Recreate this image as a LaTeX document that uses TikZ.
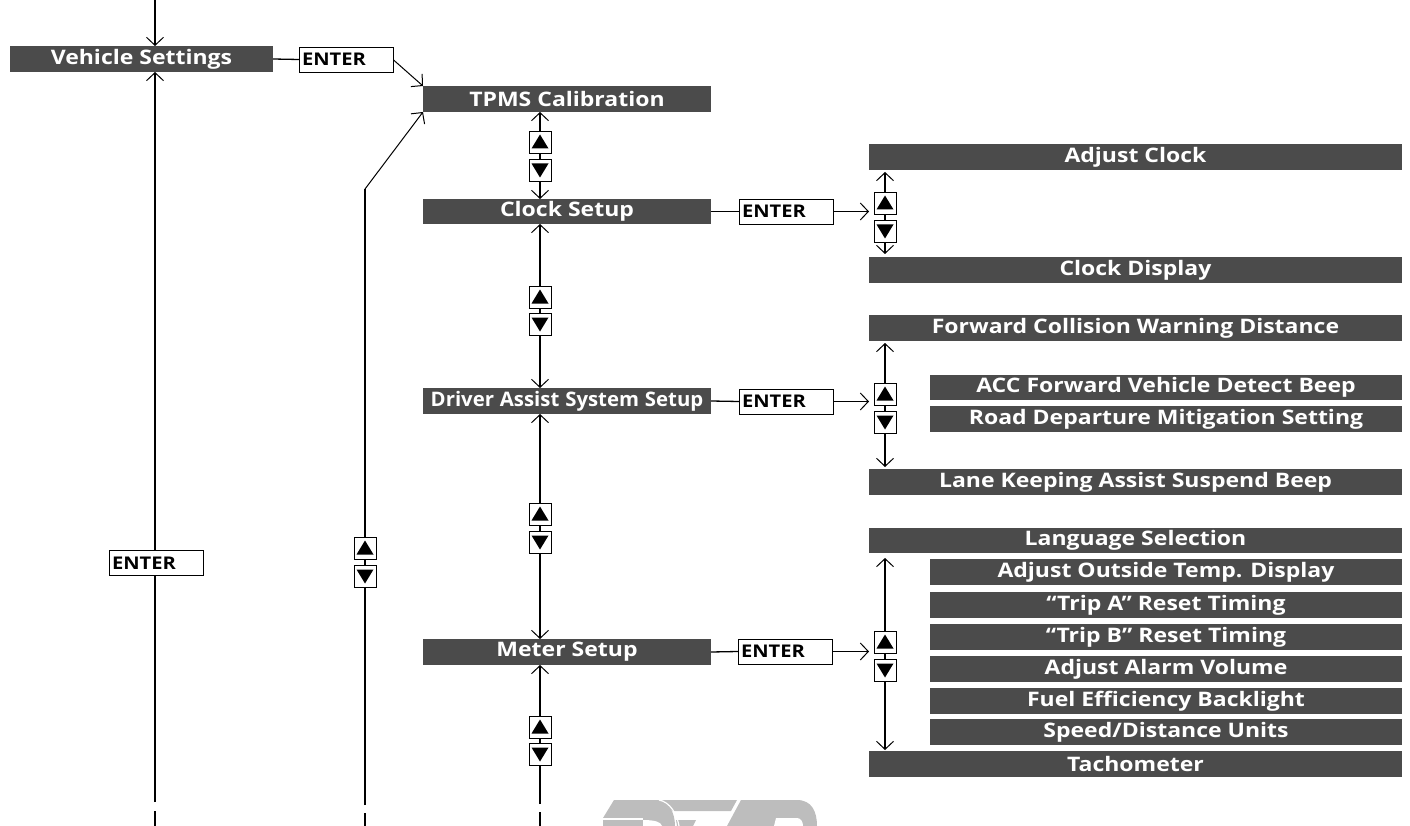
\documentclass[tikz,border=0pt]{standalone}
\usepackage{fontspec}
\setmainfont{Open Sans}[FakeStretch=1.15]
\usetikzlibrary{arrows.meta}
\pgfdeclarelayer{bg}
\pgfsetlayers{bg,main}
\definecolor{barc}{HTML}{4B4B4B}
\definecolor{wmark}{HTML}{BDBDBD}
\newcommand\BtnUp[1]{\fill ([shift={(-8.5,6.5)}]#1.center) -- ([shift={(8.5,6.5)}]#1.center) -- ([shift={(0,-7.5)}]#1.center) -- cycle;}
\newcommand\BtnDown[1]{\fill ([shift={(-8.5,-6.5)}]#1.center) -- ([shift={(8.5,-6.5)}]#1.center) -- ([shift={(0,7.5)}]#1.center) -- cycle;}
\begin{document}
\begin{tikzpicture}[x=1pt,y=-1pt,
  bar/.style={fill=barc, text=white, font=\bfseries\fontsize{20}{20}\selectfont, minimum height=26pt, inner sep=0pt, outer sep=0pt},
  enterbox/.style={draw=black, line width=0.9pt, fill=white, minimum height=25pt, inner xsep=3pt, inner ysep=0pt, text width=88pt, align=left, outer sep=0pt, font=\bfseries\fontsize{17.5}{17.5}\selectfont},
  btn/.style={draw=black, line width=0.9pt, fill=white, minimum size=22pt, inner sep=0pt, outer sep=0pt},
  link/.style={line width=1.3pt},
  thin/.style={line width=1pt},
  arr/.style={-{Straight Barb[length=8pt,width=17pt,line width=1pt]}},
  arrs/.style={{Straight Barb[length=8pt,width=17pt,line width=1pt]}-{Straight Barb[length=8pt,width=17pt,line width=1pt]}}
]
\useasboundingbox (0,0) rectangle (1410,826);

% bars
\node[bar, minimum width=263pt] (vs) at (141.5,59) {Vehicle Settings};
\node[bar, minimum width=288pt] (tpms) at (567,99) {TPMS Calibration};
\node[bar, minimum width=288pt, minimum height=25pt] (clock) at (567,211.5) {Clock Setup};
\node[bar, minimum width=288pt, text width=288pt, align=center] (das) at (567,401) {\scalebox{0.885}[1]{Driver Assist System Setup}};
\node[bar, minimum width=288pt] (meter) at (567,652) {Meter Setup};

\node[bar, minimum width=533pt] (adjclock) at (1135.5,157) {Adjust Clock};
\node[bar, minimum width=533pt] (clockdisp) at (1135.5,270) {Clock Display};
\node[bar, minimum width=533pt] (fcwd) at (1135.5,328) {Forward Collision Warning Distance};
\node[bar, minimum width=472pt, minimum height=25pt] (acc) at (1166,387.5) {ACC Forward Vehicle Detect Beep};
\node[bar, minimum width=472pt] (road) at (1166,419) {Road Departure Mitigation Setting};
\node[bar, minimum width=533pt] (lane) at (1135.5,482) {Lane Keeping Assist Suspend Beep};

\node[bar, minimum width=533pt, minimum height=25pt] (lang) at (1135.5,540.5) {Language Selection};
\node[bar, minimum width=472pt] (outside) at (1166,572) {Adjust Outside Temp. Display};
\node[bar, minimum width=472pt] (tripa) at (1166,605) {“Trip A” Reset Timing};
\node[bar, minimum width=472pt] (tripb) at (1166,637) {“Trip B” Reset Timing};
\node[bar, minimum width=472pt] (alarm) at (1166,669) {Adjust Alarm Volume};
\node[bar, minimum width=472pt] (fuel) at (1166,701) {Fuel Efficiency Backlight};
\node[bar, minimum width=472pt] (speed) at (1166,732) {Speed/Distance Units};
\node[bar, minimum width=533pt] (tach) at (1135.5,764) {Tachometer};

% ENTER boxes
\node[enterbox] (e0) at (346,59.5) {ENTER};
\node[enterbox] (e1) at (786,211.5) {ENTER};
\node[enterbox] (e2) at (786,401.5) {ENTER};
\node[enterbox] (e3) at (785,651.5) {ENTER};
\node[enterbox] (e4) at (156,563) {ENTER};

% up/down buttons
\node[btn] (u1) at (540,142) {}; \node[btn] (d1) at (540,170) {};
\node[btn] (u2) at (540,297) {}; \node[btn] (d2) at (540,324) {};
\node[btn] (u3) at (540,514) {}; \node[btn] (d3) at (540,542) {};
\node[btn] (u4) at (540,727) {}; \node[btn] (d4) at (540,754) {};
\node[btn] (u5) at (365,548) {}; \node[btn] (d5) at (365,576) {};
\node[btn] (u6) at (885,203) {}; \node[btn] (d6) at (885,231) {};
\node[btn] (u7) at (885,394) {}; \node[btn] (d7) at (885,422) {};
\node[btn] (u8) at (885,642) {}; \node[btn] (d8) at (885,670) {};
\foreach \n in {1,...,8}{\BtnUp{u\n}\BtnDown{d\n}}

% free-end coordinates
\coordinate (top0) at (155,0);
\coordinate (bot0) at (155,802); \coordinate (g0a) at (155,811); \coordinate (g0b) at (155,826);
\coordinate (bot1) at (365,805); \coordinate (g1a) at (365,813); \coordinate (g1b) at (365,826);
\coordinate (bend1) at (365,189);
\coordinate (bot2) at (540,804); \coordinate (g2a) at (540,812); \coordinate (g2b) at (540,826);

\begin{pgfonlayer}{bg}
% left column
\draw[link,arr] (top0) -- (vs.north -| top0);
\draw[link,arr] (bot0) -- (vs.south -| bot0);
\draw[link] (g0a) -- (g0b);
% second column
\draw[link] (bot1) -- (bend1);
\draw[thin,arr] (bend1) -- (tpms.south west);
\draw[link] (g1a) -- (g1b);
% ENTER from vehicle settings
\draw[link] (vs.east) -- (e0.west);
\draw[thin,arr] (e0.east) -- (tpms.north west);
% main column
\draw[link,arrs] (tpms.south -| u1) -- (clock.north -| d1);
\draw[link,arrs] (clock.south -| u2) -- (das.north -| d2);
\draw[link,arrs] (das.south -| u3) -- (meter.north -| d3);
\draw[link,arr] (bot2) -- (meter.south -| bot2);
\draw[link] (g2a) -- (g2b);
% ENTER rows
\draw[link] (clock.east) -- (e1.west);
\draw[link,arr] (e1.east) -- (e1.east -| adjclock.west);
\draw[link] (das.east) -- (e2.west);
\draw[link,arr] (e2.east) -- (e2.east -| fcwd.west);
\draw[link] (meter.east) -- (e3.west);
\draw[link,arr] (e3.east) -- (e3.east -| lang.west);
% right columns
\draw[link,arrs] ([yshift=-2pt]adjclock.south -| u6) -- ([yshift=3pt]clockdisp.north -| d6);
\draw[link,arrs] ([yshift=-2pt]fcwd.south -| u7) -- ([yshift=2pt]lane.north -| d7);
\draw[link,arrs] ([yshift=-5pt]lang.south -| u8) -- ([yshift=1pt]tach.north -| d8);

% watermark
\fill[wmark] (603,818) -- (614,800) -- (657,800) .. controls (668,800) and (675,812) .. (675,826) -- (603,826) -- cycle;
\fill[white] (603,817.5) rectangle (643,820);
\fill[white] (643,820) .. controls (655,820) and (661,822) .. (662,826) -- (643,826) -- cycle;
\fill[wmark] (662,800) -- (737,800) -- (731,811) -- (672,811) -- cycle;
\fill[wmark] (676,820) -- (696,820) -- (693,826) -- (677,826) -- cycle;
\fill[wmark] (741,800) -- (797,800) .. controls (812,800) and (817,812) .. (817,826) -- (727,826) -- cycle;
\fill[white] (776,818) -- (797,818) .. controls (801,818) and (803,822) .. (803,826) -- (774,826) -- cycle;
\draw[white, line width=1.2pt] (659,800) .. controls (670,802) and (677,814) .. (679,826);
\end{pgfonlayer}
\end{tikzpicture}
\end{document}
